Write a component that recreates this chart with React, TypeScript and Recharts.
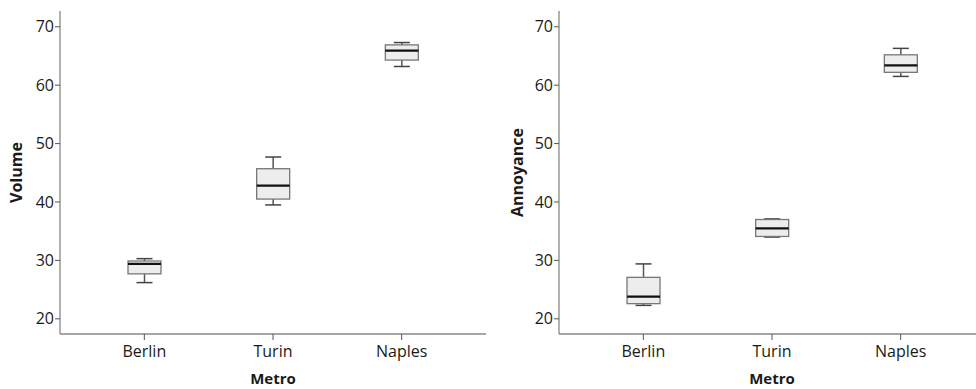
import React from 'react';
import { ComposedChart, Bar, XAxis, YAxis } from 'recharts';

const categories = ['Berlin', 'Turin', 'Naples'];

// Volume box plot stats
const volumeMin = [26.2, 39.5, 63.2];
const volumeQ1 = [27.7, 40.5, 64.3];
const volumeMedian = [29.4, 42.8, 65.9];
const volumeQ3 = [29.9, 45.7, 66.9];
const volumeMax = [30.3, 47.7, 67.3];

// Annoyance box plot stats
const annoyMin = [22.3, 34.0, 61.5];
const annoyQ1 = [22.6, 34.1, 62.2];
const annoyMedian = [23.8, 35.5, 63.4];
const annoyQ3 = [27.1, 37.0, 65.2];
const annoyMax = [29.4, 37.1, 66.3];

const yTicks = [20, 30, 40, 50, 60, 70];

const FONT = '"Open Sans", sans-serif';
const AXIS = '#888';

const buildRows = (mins: number[], q1s: number[], meds: number[], q3s: number[], maxs: number[]) =>
    categories.map((name, i) => ({
        name,
        min: mins[i],
        q1: q1s[i],
        median: meds[i],
        q3: q3s[i],
        max: maxs[i],
    }));

// draws whiskers, box and median inside the [min, max] range bar
const BoxShape = (props: any) => {
    const { x, y, width, height, payload } = props;
    if (!payload) return null;
    const { min, q1, median, q3, max } = payload;
    const top = Math.min(y, y + height);
    const h = Math.abs(height);
    const toY = (v: number) => top + ((max - v) / (max - min)) * h;
    const cx = x + width / 2;
    const cap = 8;
    const yMax = toY(max);
    const yMin = toY(min);
    const yQ3 = toY(q3);
    const yQ1 = toY(q1);
    const yMed = toY(median);
    return (
        <g>
            <line x1={cx} x2={cx} y1={yMax} y2={yQ3} stroke="#555" strokeWidth={1.5} />
            <line x1={cx} x2={cx} y1={yQ1} y2={yMin} stroke="#555" strokeWidth={1.5} />
            <line x1={cx - cap} x2={cx + cap} y1={yMax} y2={yMax} stroke="#444" strokeWidth={1.5} />
            <line x1={cx - cap} x2={cx + cap} y1={yMin} y2={yMin} stroke="#444" strokeWidth={1.5} />
            <rect x={x} y={yQ3} width={width} height={yQ1 - yQ3} fill="#ededed" stroke="#777" strokeWidth={1.3} />
            <line x1={x} x2={x + width} y1={yMed} y2={yMed} stroke="#111" strokeWidth={2.2} />
        </g>
    );
};

interface PanelProps {
    data: any[];
    yLabel: string;
    width: number;
    yAxisWidth: number;
    labelOffset: number;
    marginRight: number;
}

const Panel: React.FC<PanelProps> = ({ data, yLabel, width, yAxisWidth, labelOffset, marginRight }) => (
    <ComposedChart width={width} height={389} data={data} margin={{ top: 11, right: marginRight, bottom: 0, left: 0 }}>
        <XAxis
            dataKey="name"
            height={55}
            padding={{ left: 20, right: 20 }}
            axisLine={{ stroke: AXIS, strokeWidth: 1.3 }}
            tickLine={{ stroke: '#555' }}
            tickSize={6}
            tickMargin={6}
            tick={{ fill: '#1a1a1a', fontSize: 16, fontFamily: FONT }}
            label={{ value: 'Metro', position: 'insideBottom', offset: 5, fill: '#1a1a1a', fontSize: 15, fontWeight: 700, fontFamily: FONT }}
        />
        <XAxis xAxisId="top" dataKey="name" orientation="top" height={0} tick={false} tickLine={false} axisLine={{ stroke: AXIS, strokeWidth: 1.3 }} />
        <YAxis
            domain={[17.4, 72.7]}
            ticks={yTicks}
            width={yAxisWidth}
            axisLine={{ stroke: AXIS, strokeWidth: 1.3 }}
            tickLine={{ stroke: '#555' }}
            tickSize={5}
            tickMargin={1}
            tick={{ fill: '#1a1a1a', fontSize: 16, fontFamily: FONT }}
            label={{ value: yLabel, angle: -90, position: 'insideLeft', offset: labelOffset, style: { textAnchor: 'middle' }, fill: '#1a1a1a', fontSize: 16, fontWeight: 700, fontFamily: FONT }}
        />
        <YAxis yAxisId="right" orientation="right" width={0} domain={[17.4, 72.7]} tick={false} tickLine={false} axisLine={{ stroke: AXIS, strokeWidth: 1.3 }} />
        <Bar dataKey={(d: any) => [d.min, d.max]} barSize={33} shape={<BoxShape />} isAnimationActive={false} />
    </ComposedChart>
);

const App: React.FC = () => {
    const volumeData = buildRows(volumeMin, volumeQ1, volumeMedian, volumeQ3, volumeMax);
    const annoyData = buildRows(annoyMin, annoyQ1, annoyMedian, annoyQ3, annoyMax);

    return (
        <div style={{ position: 'fixed', left: 0, top: 0, width: 976, height: 389, overflow: 'hidden', background: '#fff' }}>
            <div style={{ position: 'absolute', left: 0, top: 0 }}>
                <Panel data={volumeData} yLabel="Volume" width={490} yAxisWidth={60} labelOffset={16} marginRight={4} />
            </div>
            <div style={{ position: 'absolute', left: 490, top: 0 }}>
                <Panel data={annoyData} yLabel="Annoyance" width={495} yAxisWidth={69} labelOffset={27} marginRight={0} />
            </div>
        </div>
    );
};

export default App;
